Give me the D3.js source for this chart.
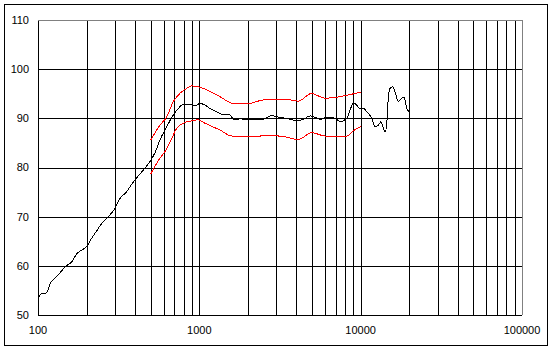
<!DOCTYPE html>
<html>
<head>
<meta charset="utf-8">
<script src="https://cdn.jsdelivr.net/npm/d3@7"></script>
<style>
  body { margin: 0; background: #fff; }
  svg { display: block; }
</style>
</head>
<body>
<script>
// data (frequency in Hz, level in dB)
const freqMeasured = [100, 105, 108, 113, 119, 127, 137, 147, 162, 174, 187, 200, 215, 231, 248, 273, 300, 322, 355, 372, 400, 450, 494, 531, 570, 628, 690, 741, 796, 876, 940, 1010, 1085, 1165, 1282, 1409, 1479, 1550, 1626, 1706, 1788, 1920, 2063, 2269, 2494, 2811, 3019, 3318, 3649, 4016, 4416, 4857, 5214, 5600, 6160, 6617, 7108, 7452, 8200, 8596, 9016, 9458, 9915, 10400, 10910, 11720, 12280, 12880, 13330, 13830, 14180, 14520, 14860, 15220, 15810, 16340, 17130, 17980, 18580, 19310, 20000]
const splMeasured = [53.5, 54.3, 54.4, 54.5, 56.4, 57.5, 58.6, 59.8, 60.8, 62.5, 63.2, 63.9, 65.6, 67.1, 68.6, 70.0, 71.7, 73.7, 75.1, 76.1, 77.5, 79.5, 81.2, 83.0, 85.6, 88.3, 90.7, 92.0, 92.85, 92.85, 92.6, 93.0, 92.7, 92.0, 91.35, 90.7, 90.8, 90.7, 89.8, 89.7, 89.9, 89.8, 89.8, 89.7, 89.8, 90.6, 90.3, 90.1, 89.8, 89.5, 89.8, 90.5, 90.2, 89.8, 90.2, 90.2, 89.8, 89.3, 90.0, 91.7, 93.1, 92.7, 91.9, 92.0, 91.35, 90.0, 88.3, 88.6, 89.3, 88.0, 87.3, 89.0, 94.4, 96.1, 96.4, 95.4, 93.4, 94.1, 94.3, 92.0, 91.3]

const freqUpper = [500, 570, 628, 690, 759, 836, 897, 986, 1111, 1344, 1588, 1788, 2013, 2378, 2743, 3318, 3826, 4110, 4975, 5342, 6015, 7108, 8200, 10000]
const splUpper = [85.6, 88.6, 90.3, 93.4, 95.1, 96.1, 96.6, 96.4, 95.8, 94.4, 93.1, 93.0, 93.0, 93.6, 93.9, 93.8, 93.7, 93.5, 95.1, 94.7, 94.1, 94.3, 94.7, 95.3]

const freqLower = [500, 570, 612, 674, 724, 796, 897, 986, 1085, 1344, 1588, 2013, 2378, 2743, 3318, 4110, 4975, 6015, 7108, 8200, 9016, 10000]
const splLower = [78.7, 81.9, 83.2, 85.9, 87.97, 89.0, 89.5, 89.7, 89.0, 87.6, 86.4, 86.3, 86.4, 86.5, 86.3, 85.7, 87.1, 86.4, 86.4, 86.4, 87.5, 88.3]

const yTicks = [50, 60, 70, 80, 90, 100, 110]
const xLabels = [100, 1000, 10000, 100000]

// chart dimensions
const W = 554, H = 352
const margin = { top: 20, right: 32, bottom: 37, left: 38 }
const width = W - margin.left - margin.right
const height = H - margin.top - margin.bottom

const svg = d3.select("body")
  .append("svg")
    .attr("width", W)
    .attr("height", H)

// outer frame
svg.append("rect")
  .attr("x", 4.5).attr("y", 4.5)
  .attr("width", 543).attr("height", 341)
  .attr("fill", "none")
  .attr("stroke", "#000")
  .attr("shape-rendering", "crispEdges")

const chart = svg.append("g")
  .attr("transform", "translate(" + margin.left + "," + margin.top + ")")

const x = d3.scaleLog().domain([100, 100000]).range([0, width])
const y = d3.scaleLinear().domain([50, 110]).range([height, 0])

// vertical grid: every 1..9 of each decade
const xGrid = []
for (let d = 100; d < 100000; d *= 10) {
  for (let k = 1; k < 10; k++) xGrid.push(d * k)
}
xGrid.push(100000)

const px = v => Math.round(v) + 0.5

chart.append("g")
  .selectAll("line")
  .data(xGrid)
  .join("line")
    .attr("x1", d => px(x(d))).attr("x2", d => px(x(d)))
    .attr("y1", 0).attr("y2", height)
    .attr("stroke", d => d == 100000 ? "#808080" : "#000")
    .attr("shape-rendering", "crispEdges")

chart.append("g")
  .selectAll("line")
  .data(yTicks)
  .join("line")
    .attr("x1", 0).attr("x2", width)
    .attr("y1", d => px(y(d))).attr("y2", d => px(y(d)))
    .attr("stroke", d => d == 110 ? "#808080" : "#000")
    .attr("shape-rendering", "crispEdges")

// y labels
chart.append("g")
  .selectAll("text")
  .data(yTicks)
  .join("text")
    .attr("x", -9)
    .attr("y", d => y(d))
    .attr("dy", "0.35em")
    .attr("text-anchor", "end")
    .attr("font-family", "Liberation Sans, Arial, sans-serif")
    .attr("font-size", 11)
    .text(d => d)

// x labels
chart.append("g")
  .selectAll("text")
  .data(xLabels)
  .join("text")
    .attr("x", d => x(d))
    .attr("y", height + 19)
    .attr("text-anchor", "middle")
    .attr("font-family", "Liberation Sans, Arial, sans-serif")
    .attr("font-size", 11)
    .text(d => d)

// curves are drawn aliased, like the original plot
function drawCurve(freqs, spls, colour) {
  const pts = freqs.map((f, i) => [f, spls[i]])
  chart.append("path")
    .datum(pts)
    .attr("fill", "none")
    .attr("stroke", colour)
    .attr("stroke-width", 1)
    .attr("shape-rendering", "crispEdges")
    .attr("d", d3.line()
      .curve(d3.curveMonotoneX)
      .x(d => x(d[0]))
      .y(d => y(d[1]))
    )
}

drawCurve(freqUpper, splUpper, "#ff0000")
drawCurve(freqLower, splLower, "#ff0000")
drawCurve(freqMeasured, splMeasured, "#000")
</script>
</body>
</html>
